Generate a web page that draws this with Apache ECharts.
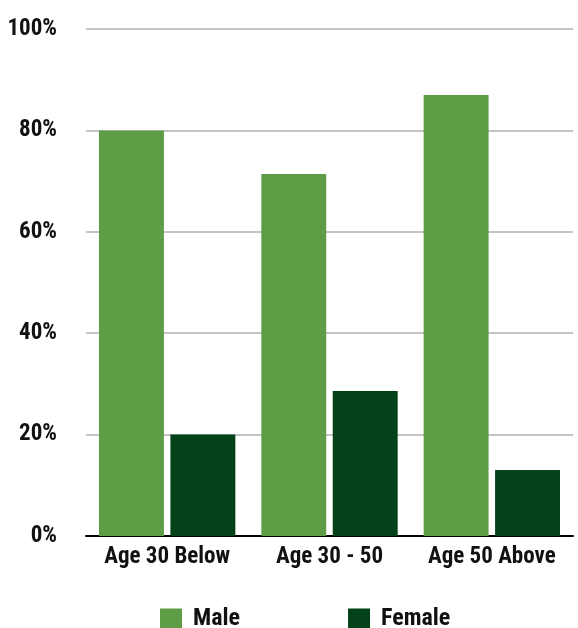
<!DOCTYPE html>
<html>
<head>
<meta charset="utf-8">
<script src="https://cdn.jsdelivr.net/npm/echarts@6/dist/echarts.min.js"></script>
<style>
html,body{margin:0;padding:0;background:#fff;}
#chart{width:578px;height:628px;}
</style>
</head>
<body>
<div id="chart"></div>
<script>
const categories = ['Age 30 Below', 'Age 30 - 50', 'Age 50 Above'];
const maleValues = [80, 71.4, 87];
const femaleValues = [20, 28.6, 13];
const yTicks = [0, 20, 40, 60, 80, 100];

const FONT = '"Roboto Condensed", "Open Sans Condensed", sans-serif';
const chart = echarts.init(document.getElementById('chart'), null, {renderer: 'canvas'});
chart.setOption({
  animation: false,
  grid: {left: 86, right: 5, top: 29, bottom: 92, containLabel: false, outerBoundsMode: 'none'},
  legend: {
    data: ['Male', 'Female'],
    top: 602,
    left: 155,
    itemWidth: 22,
    itemHeight: 21,
    itemGap: 108,
    icon: 'rect',
    textStyle: {fontFamily: FONT, fontWeight: 'bold', fontSize: 24, color: '#111', padding: [0, 0, 0, 6]}
  },
  xAxis: {
    type: 'category',
    data: categories,
    axisLine: {show: true, lineStyle: {color: '#000', width: 2}},
    axisTick: {show: false},
    axisLabel: {fontFamily: FONT, fontWeight: 'bold', fontSize: 23, color: '#111', margin: 10, interval: 0}
  },
  yAxis: {
    type: 'value',
    min: yTicks[0],
    max: yTicks[yTicks.length - 1],
    interval: 20,
    axisLine: {show: false},
    axisTick: {show: false},
    splitLine: {lineStyle: {color: '#c4c4c4', width: 2}},
    axisLabel: {fontFamily: FONT, fontWeight: 'bold', fontSize: 23, color: '#111', margin: 29, formatter: '{value}%'}
  },
  series: [
    {name: 'Male', type: 'bar', data: maleValues, barWidth: '40%', barGap: '10%', itemStyle: {color: '#5e9c46'}},
    {name: 'Female', type: 'bar', data: femaleValues, barWidth: '40%', barGap: '10%', itemStyle: {color: '#034219'}}
  ]
});
</script>
</body>
</html>
